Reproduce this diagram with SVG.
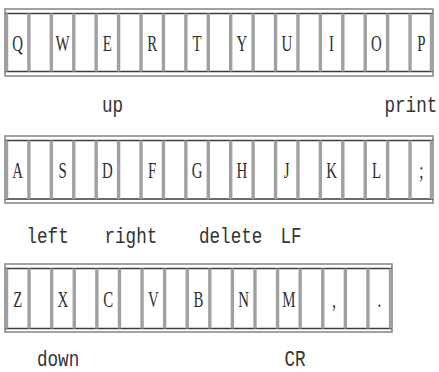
<svg xmlns="http://www.w3.org/2000/svg" width="439" height="372" viewBox="0 0 439 372">
<style>
.frame{fill:#fff;stroke:#7a7a7a;stroke-width:1.4}
.inner{stroke:#3c3c3c;stroke-width:1.6;fill:none}
.sep{stroke:#a0a0a0;stroke-width:3.4;fill:none}
.k{font-family:"Liberation Serif",serif;font-size:24px;fill:#2e2e2e;text-anchor:middle}
.lbl{font-family:"Liberation Mono",monospace;font-size:22px;fill:#333}
</style>
<rect width="439" height="372" fill="#fff"/>
<g id="row1">
<rect class="frame" x="5" y="9" width="428" height="67"/>
<path class="inner" d="M5 13.5H433M5 71.5H433"/>
<path class="sep" d="M6.5 13.5V71.5M28.92 13.5V71.5M51.34 13.5V71.5M73.76 13.5V71.5M96.18 13.5V71.5M118.6 13.5V71.5M141.02 13.5V71.5M163.44 13.5V71.5M185.86 13.5V71.5M208.28 13.5V71.5M230.7 13.5V71.5M253.12 13.5V71.5M275.54 13.5V71.5M297.96 13.5V71.5M320.38 13.5V71.5M342.8 13.5V71.5M365.22 13.5V71.5M387.64 13.5V71.5M410.06 13.5V71.5M431.48 13.5V71.5"/>
<g id="key-Q"><text class="k" transform="translate(17.71,51) scale(0.62,1)">Q</text></g>
<g id="key-W"><text class="k" transform="translate(62.55,51) scale(0.62,1)">W</text></g>
<g id="key-E"><text class="k" transform="translate(107.39,51) scale(0.62,1)">E</text></g>
<g id="key-R"><text class="k" transform="translate(152.23,51) scale(0.62,1)">R</text></g>
<g id="key-T"><text class="k" transform="translate(197.07,51) scale(0.62,1)">T</text></g>
<g id="key-Y"><text class="k" transform="translate(241.91,51) scale(0.62,1)">Y</text></g>
<g id="key-U"><text class="k" transform="translate(286.75,51) scale(0.62,1)">U</text></g>
<g id="key-I"><text class="k" transform="translate(331.59,51) scale(0.62,1)">I</text></g>
<g id="key-O"><text class="k" transform="translate(376.43,51) scale(0.62,1)">O</text></g>
<g id="key-P"><text class="k" transform="translate(421.27,51) scale(0.62,1)">P</text></g>
</g>
<g id="row2">
<rect class="frame" x="5" y="136" width="428" height="67"/>
<path class="inner" d="M5 140.5H433M5 199H433"/>
<path class="sep" d="M6.5 140.5V199M28.92 140.5V199M51.34 140.5V199M73.76 140.5V199M96.18 140.5V199M118.6 140.5V199M141.02 140.5V199M163.44 140.5V199M185.86 140.5V199M208.28 140.5V199M230.7 140.5V199M253.12 140.5V199M275.54 140.5V199M297.96 140.5V199M320.38 140.5V199M342.8 140.5V199M365.22 140.5V199M387.64 140.5V199M410.06 140.5V199M431.48 140.5V199"/>
<g id="key-A"><text class="k" transform="translate(17.71,178) scale(0.62,1)">A</text></g>
<g id="key-S"><text class="k" transform="translate(62.55,178) scale(0.62,1)">S</text></g>
<g id="key-D"><text class="k" transform="translate(107.39,178) scale(0.62,1)">D</text></g>
<g id="key-F"><text class="k" transform="translate(152.23,178) scale(0.62,1)">F</text></g>
<g id="key-G"><text class="k" transform="translate(197.07,178) scale(0.62,1)">G</text></g>
<g id="key-H"><text class="k" transform="translate(241.91,178) scale(0.62,1)">H</text></g>
<g id="key-J"><text class="k" transform="translate(286.75,178) scale(0.62,1)">J</text></g>
<g id="key-K"><text class="k" transform="translate(331.59,178) scale(0.62,1)">K</text></g>
<g id="key-L"><text class="k" transform="translate(376.43,178) scale(0.62,1)">L</text></g>
<g id="key-semicolon"><text class="k" transform="translate(421.27,178) scale(0.62,1)">;</text></g>
</g>
<g id="row3">
<rect class="frame" x="5" y="264" width="387" height="68"/>
<path class="inner" d="M5 268.5H392M5 328.5H392"/>
<path class="sep" d="M6.5 268.5V328.5M29.09 268.5V328.5M51.68 268.5V328.5M74.27 268.5V328.5M96.86 268.5V328.5M119.45 268.5V328.5M142.04 268.5V328.5M164.63 268.5V328.5M187.22 268.5V328.5M209.81 268.5V328.5M232.4 268.5V328.5M254.99 268.5V328.5M277.58 268.5V328.5M300.17 268.5V328.5M322.76 268.5V328.5M345.35 268.5V328.5M367.94 268.5V328.5M390.53 268.5V328.5"/>
<g id="key-Z"><text class="k" transform="translate(17.8,306.5) scale(0.62,1)">Z</text></g>
<g id="key-X"><text class="k" transform="translate(62.98,306.5) scale(0.62,1)">X</text></g>
<g id="key-C"><text class="k" transform="translate(108.16,306.5) scale(0.62,1)">C</text></g>
<g id="key-V"><text class="k" transform="translate(153.34,306.5) scale(0.62,1)">V</text></g>
<g id="key-B"><text class="k" transform="translate(198.52,306.5) scale(0.62,1)">B</text></g>
<g id="key-N"><text class="k" transform="translate(243.7,306.5) scale(0.62,1)">N</text></g>
<g id="key-M"><text class="k" transform="translate(288.88,306.5) scale(0.62,1)">M</text></g>
<g id="key-comma"><text class="k" transform="translate(334.06,306.5) scale(0.62,1)">,</text></g>
<g id="key-period"><text class="k" transform="translate(379.24,306.5) scale(0.62,1)">.</text></g>
</g>
<g id="labels">
<text class="lbl" transform="translate(102,112) scale(0.8,1)">up</text>
<text class="lbl" transform="translate(384.5,112) scale(0.8,1)">print</text>
<text class="lbl" transform="translate(26.5,243) scale(0.8,1)">left</text>
<text class="lbl" transform="translate(104.5,243) scale(0.8,1)">right</text>
<text class="lbl" transform="translate(199,243) scale(0.8,1)">delete</text>
<text class="lbl" transform="translate(280.5,243) scale(0.8,1)">LF</text>
<text class="lbl" transform="translate(37,366) scale(0.8,1)">down</text>
<text class="lbl" transform="translate(284.5,366) scale(0.8,1)">CR</text>
</g>
</svg>
